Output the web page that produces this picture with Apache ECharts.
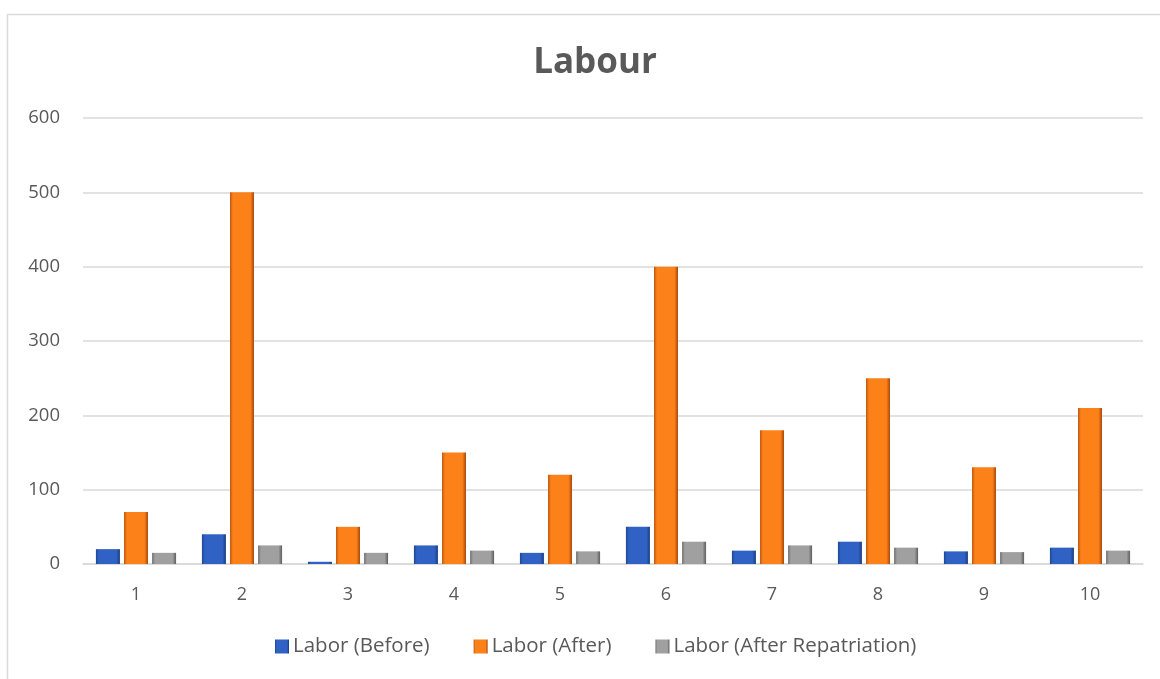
<!DOCTYPE html>
<html><head><meta charset="utf-8">
<script src="https://cdn.jsdelivr.net/npm/echarts@6/dist/echarts.min.js"></script>
<style>html,body{margin:0;padding:0;background:#fff;}#c{width:1160px;height:679px;}</style>
</head><body><div id="c"></div>
<script>
const categories = ['1','2','3','4','5','6','7','8','9','10'];
const laborBefore = [20, 40, 3, 25, 15, 50, 18, 30, 17, 22];
const laborAfter = [70, 500, 50, 150, 120, 400, 180, 250, 130, 210];
const laborRepatriation = [15, 25, 15, 18, 17, 30, 25, 22, 16, 18];
const seriesNames = ['Labor (Before)', 'Labor (After)', 'Labor (After Repatriation)'];

function grad(edgeL, mid, edgeR) {
  return new echarts.graphic.LinearGradient(0, 0, 1, 0, [
    {offset: 0, color: edgeL}, {offset: 0.12, color: mid}, {offset: 0.85, color: mid}, {offset: 1, color: edgeR}
  ]);
}
const font = '"Open Sans", "Liberation Sans", sans-serif';
const chart = echarts.init(document.getElementById('c'));
chart.setOption({
  animation: false,
  title: {text: 'Labour', left: 590, textAlign: 'center', top: 41, textStyle: {fontFamily: font, fontSize: 35, fontWeight: 'bold', color: '#595959'}},
  graphic: [{type: 'rect', shape: {x: 7.5, y: 14.5, width: 1300, height: 800}, style: {fill: 'none', stroke: '#d9d9d9', lineWidth: 1.5}, silent: true}],
  grid: {left: 83, right: 17, top: 118, bottom: 115, containLabel: false},
  legend: {bottom: 17, left: 270, itemWidth: 14, itemHeight: 14, itemGap: 44, icon: 'rect',
    textStyle: {fontFamily: font, fontSize: 20.5, color: '#595959', padding: [0, 0, 0, -1]}, data: seriesNames},
  xAxis: {type: 'category', data: categories,
    axisLine: {lineStyle: {color: '#d9d9d9', width: 1.5}}, axisTick: {show: false},
    axisLabel: {fontFamily: font, fontSize: 18, color: '#595959', margin: 22}},
  yAxis: {type: 'value', min: 0, max: 600, interval: 100,
    axisLine: {show: false}, axisTick: {show: false},
    splitLine: {lineStyle: {color: '#d9d9d9', width: 1.5}},
    axisLabel: {fontFamily: font, fontSize: 18.5, color: '#595959', margin: 23}},
  series: [
    {name: seriesNames[0], type: 'bar', data: laborBefore, barWidth: 24, barGap: '17%',
      itemStyle: {color: grad('#1f4590', '#2f62c4', '#1b3c80')}},
    {name: seriesNames[1], type: 'bar', data: laborAfter, barWidth: 24, barGap: '17%',
      itemStyle: {color: grad('#c0560e', '#fb8118', '#a9470a')}},
    {name: seriesNames[2], type: 'bar', data: laborRepatriation, barWidth: 24, barGap: '17%',
      itemStyle: {color: grad('#6e6e6e', '#a0a0a0', '#5e5e5e')}}
  ]
});
</script></body></html>
